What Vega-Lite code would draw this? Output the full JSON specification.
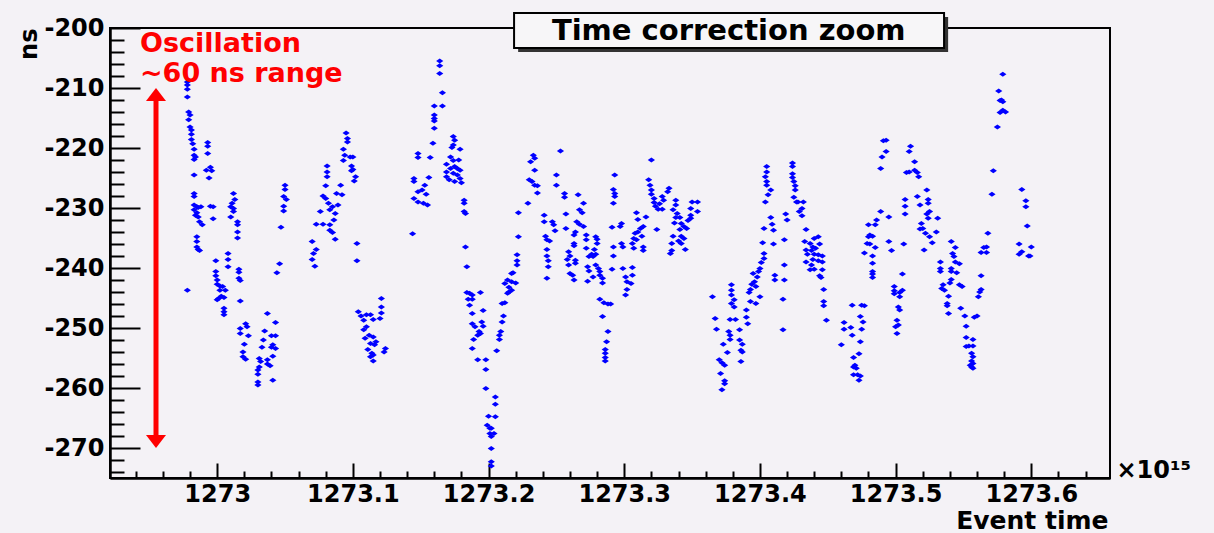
{
  "$schema": "https://vega.github.io/schema/vega-lite/v6.json",
  "width": 1000,
  "height": 450,
  "autosize": {"type": "none"},
  "padding": {"left": 110, "top": 28, "right": 104, "bottom": 55},
  "background": "#f4f2f6",
  "config": {
    "view": {"stroke": "#000000", "strokeWidth": 2, "fill": "#f4f2f6"},
    "font": "DejaVu Sans",
    "axis": {
      "grid": false, "labelFlush": false, "labelOverlap": false, "labelBound": false,
      "domainColor": "#000000", "domainWidth": 2, "tickColor": "#000000", "tickWidth": 2,
      "labelColor": "#000000", "titleColor": "#000000",
      "labelFont": "DejaVu Sans", "titleFont": "DejaVu Sans",
      "labelFontWeight": "bold", "titleFontWeight": "bold",
      "labelFontSize": 24, "titleFontSize": 24
    }
  },
  "datasets": {
    "pts": [
      {"t":1272.978,"ns":-209.0},{"t":1272.978,"ns":-209.5},{"t":1272.978,"ns":-210.2},{"t":1272.978,"ns":-211.5},
      {"t":1272.979,"ns":-214.0},{"t":1272.980,"ns":-214.5},{"t":1272.979,"ns":-215.3},{"t":1272.980,"ns":-216.5},
      {"t":1272.981,"ns":-217.0},{"t":1272.981,"ns":-217.7},{"t":1272.981,"ns":-218.6},{"t":1272.982,"ns":-219.3},
      {"t":1272.983,"ns":-220.2},{"t":1272.983,"ns":-221.2},{"t":1272.984,"ns":-221.5},{"t":1272.983,"ns":-221.9},
      {"t":1272.983,"ns":-224.5},{"t":1272.983,"ns":-227.6},{"t":1272.983,"ns":-228.1},{"t":1272.983,"ns":-229.5},
      {"t":1272.985,"ns":-229.8},{"t":1272.986,"ns":-229.9},{"t":1272.988,"ns":-229.8},{"t":1272.983,"ns":-230.3},
      {"t":1272.985,"ns":-230.8},{"t":1272.984,"ns":-231.2},{"t":1272.986,"ns":-231.5},{"t":1272.987,"ns":-232.3},
      {"t":1272.989,"ns":-232.8},{"t":1272.985,"ns":-234.8},{"t":1272.985,"ns":-235.6},{"t":1272.985,"ns":-236.5},
      {"t":1272.986,"ns":-236.9},{"t":1272.987,"ns":-237.1},{"t":1272.978,"ns":-243.7},
      {"t":1272.993,"ns":-219.1},{"t":1272.993,"ns":-219.7},{"t":1272.993,"ns":-220.9},{"t":1272.995,"ns":-223.2},
      {"t":1272.992,"ns":-223.7},{"t":1272.996,"ns":-223.8},{"t":1272.994,"ns":-225.0},{"t":1272.995,"ns":-229.7},
      {"t":1272.997,"ns":-229.8},{"t":1272.997,"ns":-231.8},
      {"t":1273.012,"ns":-227.6},{"t":1273.013,"ns":-228.6},{"t":1273.011,"ns":-229.2},{"t":1273.010,"ns":-229.8},
      {"t":1273.012,"ns":-230.1},{"t":1273.012,"ns":-230.6},{"t":1273.010,"ns":-231.5},{"t":1273.015,"ns":-232.3},
      {"t":1273.015,"ns":-232.8},{"t":1273.015,"ns":-234.0},{"t":1273.015,"ns":-235.0},
      {"t":1272.999,"ns":-238.8},{"t":1273.008,"ns":-237.6},{"t":1273.008,"ns":-238.6},{"t":1273.008,"ns":-239.8},
      {"t":1272.999,"ns":-240.6},{"t":1272.999,"ns":-241.3},{"t":1273.000,"ns":-242.0},{"t":1273.000,"ns":-242.7},
      {"t":1273.002,"ns":-243.0},{"t":1273.004,"ns":-243.1},{"t":1273.006,"ns":-243.7},{"t":1273.002,"ns":-243.7},
      {"t":1273.003,"ns":-244.7},{"t":1273.001,"ns":-245.1},{"t":1273.000,"ns":-245.3},{"t":1273.005,"ns":-244.9},
      {"t":1273.005,"ns":-246.7},{"t":1273.005,"ns":-247.3},{"t":1273.005,"ns":-247.8},{"t":1273.016,"ns":-240.2},
      {"t":1273.016,"ns":-240.7},{"t":1273.016,"ns":-241.7},{"t":1273.017,"ns":-242.1},{"t":1273.017,"ns":-245.5},
      {"t":1273.021,"ns":-249.3},{"t":1273.022,"ns":-249.8},{"t":1273.017,"ns":-250.1},{"t":1273.017,"ns":-250.9},
      {"t":1273.023,"ns":-251.3},{"t":1273.020,"ns":-252.7},{"t":1273.019,"ns":-254.0},{"t":1273.019,"ns":-254.8},
      {"t":1273.021,"ns":-255.2},
      {"t":1273.037,"ns":-247.6},{"t":1273.043,"ns":-249.1},{"t":1273.035,"ns":-250.5},{"t":1273.040,"ns":-251.3},
      {"t":1273.043,"ns":-251.3},{"t":1273.034,"ns":-252.0},{"t":1273.041,"ns":-252.8},{"t":1273.040,"ns":-253.2},
      {"t":1273.043,"ns":-253.4},{"t":1273.033,"ns":-253.2},{"t":1273.031,"ns":-255.1},{"t":1273.032,"ns":-255.6},
      {"t":1273.037,"ns":-255.3},{"t":1273.037,"ns":-256.0},{"t":1273.039,"ns":-256.3},{"t":1273.041,"ns":-254.7},
      {"t":1273.031,"ns":-256.5},{"t":1273.030,"ns":-257.0},{"t":1273.030,"ns":-257.7},{"t":1273.030,"ns":-259.0},
      {"t":1273.030,"ns":-259.5},{"t":1273.041,"ns":-258.7},
      {"t":1273.050,"ns":-226.2},{"t":1273.050,"ns":-226.9},{"t":1273.049,"ns":-228.1},{"t":1273.051,"ns":-228.6},
      {"t":1273.049,"ns":-229.7},{"t":1273.049,"ns":-230.5},{"t":1273.047,"ns":-233.2},{"t":1273.046,"ns":-239.3},
      {"t":1273.044,"ns":-240.8},
      {"t":1273.070,"ns":-235.6},{"t":1273.073,"ns":-236.9},{"t":1273.071,"ns":-237.6},{"t":1273.070,"ns":-238.6},
      {"t":1273.072,"ns":-239.7},
      {"t":1273.081,"ns":-223.0},{"t":1273.081,"ns":-224.0},{"t":1273.081,"ns":-224.8},{"t":1273.080,"ns":-226.3},
      {"t":1273.091,"ns":-226.2},{"t":1273.078,"ns":-228.0},{"t":1273.080,"ns":-228.4},{"t":1273.088,"ns":-227.6},
      {"t":1273.092,"ns":-227.8},{"t":1273.089,"ns":-229.5},{"t":1273.085,"ns":-229.8},{"t":1273.083,"ns":-230.3},
      {"t":1273.076,"ns":-230.6},{"t":1273.087,"ns":-230.9},{"t":1273.086,"ns":-232.0},{"t":1273.073,"ns":-232.7},
      {"t":1273.078,"ns":-232.7},{"t":1273.083,"ns":-232.8},{"t":1273.083,"ns":-233.7},{"t":1273.085,"ns":-234.1},
      {"t":1273.087,"ns":-235.2},{"t":1273.082,"ns":-229.2},
      {"t":1273.095,"ns":-217.5},{"t":1273.096,"ns":-218.4},{"t":1273.096,"ns":-219.0},{"t":1273.093,"ns":-220.2},
      {"t":1273.094,"ns":-221.2},{"t":1273.098,"ns":-221.5},{"t":1273.100,"ns":-221.5},{"t":1273.093,"ns":-222.1},
      {"t":1273.099,"ns":-223.0},{"t":1273.100,"ns":-223.6},{"t":1273.099,"ns":-223.8},{"t":1273.102,"ns":-224.8},
      {"t":1273.101,"ns":-225.5},{"t":1273.103,"ns":-235.9},{"t":1273.103,"ns":-238.8},
      {"t":1273.121,"ns":-245.1},{"t":1273.121,"ns":-246.5},{"t":1273.121,"ns":-247.5},{"t":1273.104,"ns":-247.3},
      {"t":1273.106,"ns":-248.0},{"t":1273.110,"ns":-247.8},{"t":1273.113,"ns":-247.8},{"t":1273.108,"ns":-248.7},
      {"t":1273.115,"ns":-248.6},{"t":1273.120,"ns":-248.4},{"t":1273.110,"ns":-249.8},{"t":1273.108,"ns":-250.3},
      {"t":1273.112,"ns":-251.2},{"t":1273.109,"ns":-251.7},{"t":1273.115,"ns":-251.5},{"t":1273.113,"ns":-252.6},
      {"t":1273.117,"ns":-252.3},{"t":1273.116,"ns":-252.8},{"t":1273.124,"ns":-253.4},{"t":1273.111,"ns":-253.6},
      {"t":1273.114,"ns":-254.2},{"t":1273.113,"ns":-254.8},{"t":1273.115,"ns":-254.5},{"t":1273.115,"ns":-255.5},
      {"t":1273.123,"ns":-254.0},
      {"t":1273.148,"ns":-220.9},{"t":1273.148,"ns":-221.6},{"t":1273.145,"ns":-225.1},{"t":1273.145,"ns":-225.6},
      {"t":1273.156,"ns":-224.9},{"t":1273.153,"ns":-226.2},{"t":1273.151,"ns":-227.0},{"t":1273.154,"ns":-227.7},
      {"t":1273.148,"ns":-227.3},{"t":1273.145,"ns":-228.4},{"t":1273.148,"ns":-229.0},{"t":1273.152,"ns":-229.2},
      {"t":1273.155,"ns":-229.5},{"t":1273.144,"ns":-234.3},{"t":1273.157,"ns":-221.6},{"t":1273.159,"ns":-219.2},
      {"t":1273.164,"ns":-205.5},{"t":1273.164,"ns":-206.3},{"t":1273.164,"ns":-207.6},{"t":1273.166,"ns":-210.8},
      {"t":1273.160,"ns":-213.0},{"t":1273.166,"ns":-213.0},{"t":1273.160,"ns":-214.5},{"t":1273.160,"ns":-215.1},
      {"t":1273.160,"ns":-215.5},{"t":1273.160,"ns":-216.7},
      {"t":1273.174,"ns":-218.1},{"t":1273.175,"ns":-218.7},{"t":1273.174,"ns":-219.5},{"t":1273.179,"ns":-220.2},
      {"t":1273.173,"ns":-219.9},{"t":1273.172,"ns":-221.5},{"t":1273.169,"ns":-222.7},{"t":1273.174,"ns":-222.1},
      {"t":1273.178,"ns":-222.0},{"t":1273.175,"ns":-223.1},{"t":1273.177,"ns":-223.4},{"t":1273.172,"ns":-223.4},
      {"t":1273.179,"ns":-223.7},{"t":1273.169,"ns":-224.0},{"t":1273.174,"ns":-224.2},{"t":1273.169,"ns":-224.8},
      {"t":1273.171,"ns":-225.3},{"t":1273.177,"ns":-224.5},{"t":1273.179,"ns":-225.1},{"t":1273.180,"ns":-225.8},
      {"t":1273.175,"ns":-225.6},{"t":1273.182,"ns":-228.7},{"t":1273.182,"ns":-229.2},{"t":1273.182,"ns":-230.6},
      {"t":1273.183,"ns":-230.9},{"t":1273.183,"ns":-236.5},{"t":1273.184,"ns":-239.8},
      {"t":1273.184,"ns":-244.1},{"t":1273.186,"ns":-244.2},{"t":1273.188,"ns":-244.5},{"t":1273.185,"ns":-245.2},
      {"t":1273.188,"ns":-245.2},{"t":1273.194,"ns":-244.1},{"t":1273.186,"ns":-246.2},{"t":1273.188,"ns":-247.6},
      {"t":1273.196,"ns":-247.1},{"t":1273.188,"ns":-249.3},{"t":1273.190,"ns":-249.8},{"t":1273.195,"ns":-249.0},
      {"t":1273.196,"ns":-249.7},{"t":1273.193,"ns":-250.6},{"t":1273.194,"ns":-250.9},{"t":1273.192,"ns":-251.2},
      {"t":1273.189,"ns":-251.9},{"t":1273.188,"ns":-253.4},{"t":1273.192,"ns":-255.3},{"t":1273.198,"ns":-255.3},
      {"t":1273.198,"ns":-256.9},{"t":1273.198,"ns":-260.1},{"t":1273.205,"ns":-261.5},{"t":1273.205,"ns":-262.7},
      {"t":1273.205,"ns":-264.8},{"t":1273.200,"ns":-264.7},{"t":1273.199,"ns":-266.2},{"t":1273.201,"ns":-266.7},
      {"t":1273.202,"ns":-266.7},{"t":1273.204,"ns":-267.6},{"t":1273.201,"ns":-267.6},{"t":1273.202,"ns":-268.1},
      {"t":1273.202,"ns":-270.1},{"t":1273.202,"ns":-272.3},{"t":1273.202,"ns":-273.0},
      {"t":1273.206,"ns":-253.8},{"t":1273.208,"ns":-251.9},{"t":1273.208,"ns":-251.2},{"t":1273.209,"ns":-250.6},
      {"t":1273.210,"ns":-249.0},{"t":1273.211,"ns":-248.0},{"t":1273.210,"ns":-245.9},{"t":1273.212,"ns":-245.8},
      {"t":1273.214,"ns":-244.2},{"t":1273.215,"ns":-244.0},{"t":1273.217,"ns":-243.7},{"t":1273.215,"ns":-243.2},
      {"t":1273.212,"ns":-242.6},{"t":1273.214,"ns":-242.0},{"t":1273.217,"ns":-242.3},{"t":1273.220,"ns":-242.5},
      {"t":1273.218,"ns":-240.8},{"t":1273.217,"ns":-240.9},{"t":1273.221,"ns":-239.5},{"t":1273.221,"ns":-238.8},
      {"t":1273.221,"ns":-237.8},{"t":1273.222,"ns":-234.8},{"t":1273.222,"ns":-230.8},
      {"t":1273.233,"ns":-221.2},{"t":1273.234,"ns":-221.7},{"t":1273.231,"ns":-222.3},{"t":1273.234,"ns":-223.7},
      {"t":1273.230,"ns":-225.3},{"t":1273.232,"ns":-225.6},{"t":1273.234,"ns":-226.2},{"t":1273.236,"ns":-226.3},
      {"t":1273.236,"ns":-227.5},{"t":1273.229,"ns":-229.2},
      {"t":1273.253,"ns":-220.5},{"t":1273.250,"ns":-224.5},{"t":1273.250,"ns":-226.2},{"t":1273.241,"ns":-231.2},
      {"t":1273.241,"ns":-232.3},{"t":1273.247,"ns":-232.3},{"t":1273.248,"ns":-232.8},{"t":1273.249,"ns":-233.8},
      {"t":1273.242,"ns":-234.7},{"t":1273.243,"ns":-235.3},{"t":1273.245,"ns":-235.5},{"t":1273.243,"ns":-236.9},
      {"t":1273.243,"ns":-238.0},{"t":1273.244,"ns":-238.8},{"t":1273.244,"ns":-239.8},{"t":1273.243,"ns":-241.7},
      {"t":1273.256,"ns":-227.6},{"t":1273.256,"ns":-228.2},{"t":1273.257,"ns":-231.0},{"t":1273.257,"ns":-233.4},
      {"t":1273.266,"ns":-227.8},{"t":1273.270,"ns":-229.2},{"t":1273.267,"ns":-230.3},{"t":1273.269,"ns":-230.8},
      {"t":1273.265,"ns":-232.3},{"t":1273.267,"ns":-232.7},{"t":1273.264,"ns":-234.0},{"t":1273.263,"ns":-234.5},
      {"t":1273.270,"ns":-233.1},{"t":1273.272,"ns":-234.5},{"t":1273.272,"ns":-235.3},{"t":1273.263,"ns":-235.9},
      {"t":1273.263,"ns":-236.3},{"t":1273.259,"ns":-237.3},{"t":1273.260,"ns":-238.0},{"t":1273.264,"ns":-238.7},
      {"t":1273.258,"ns":-238.6},{"t":1273.264,"ns":-239.2},{"t":1273.259,"ns":-239.5},{"t":1273.260,"ns":-240.9},
      {"t":1273.262,"ns":-241.2},{"t":1273.263,"ns":-242.0},
      {"t":1273.272,"ns":-236.7},{"t":1273.274,"ns":-238.1},{"t":1273.273,"ns":-239.8},{"t":1273.274,"ns":-240.5},
      {"t":1273.273,"ns":-242.2},{"t":1273.277,"ns":-241.5},{"t":1273.279,"ns":-234.8},{"t":1273.280,"ns":-235.2},
      {"t":1273.280,"ns":-235.9},{"t":1273.278,"ns":-236.9},{"t":1273.279,"ns":-237.7},{"t":1273.276,"ns":-237.7},
      {"t":1273.277,"ns":-238.1},{"t":1273.279,"ns":-239.5},{"t":1273.281,"ns":-240.1},{"t":1273.282,"ns":-240.6},
      {"t":1273.284,"ns":-241.7},{"t":1273.284,"ns":-242.5},{"t":1273.282,"ns":-241.2},
      {"t":1273.282,"ns":-245.2},{"t":1273.285,"ns":-245.8},{"t":1273.288,"ns":-246.0},{"t":1273.290,"ns":-246.0},
      {"t":1273.284,"ns":-248.1},{"t":1273.288,"ns":-250.6},{"t":1273.287,"ns":-252.3},{"t":1273.286,"ns":-253.6},
      {"t":1273.286,"ns":-254.2},{"t":1273.286,"ns":-254.9},{"t":1273.286,"ns":-255.5},
      {"t":1273.293,"ns":-224.5},{"t":1273.292,"ns":-226.9},{"t":1273.293,"ns":-227.6},{"t":1273.293,"ns":-228.1},
      {"t":1273.292,"ns":-229.2},{"t":1273.291,"ns":-233.2},{"t":1273.292,"ns":-236.5},{"t":1273.292,"ns":-238.0},
      {"t":1273.291,"ns":-240.2},{"t":1273.298,"ns":-232.6},{"t":1273.297,"ns":-233.1},{"t":1273.298,"ns":-235.9},
      {"t":1273.299,"ns":-236.5},{"t":1273.299,"ns":-240.1},{"t":1273.301,"ns":-241.5},{"t":1273.302,"ns":-242.3},
      {"t":1273.302,"ns":-243.6},{"t":1273.301,"ns":-244.5},
      {"t":1273.309,"ns":-230.8},{"t":1273.310,"ns":-231.9},{"t":1273.316,"ns":-231.5},{"t":1273.314,"ns":-233.1},
      {"t":1273.312,"ns":-233.4},{"t":1273.310,"ns":-234.0},{"t":1273.308,"ns":-234.2},{"t":1273.307,"ns":-235.1},
      {"t":1273.309,"ns":-235.3},{"t":1273.313,"ns":-234.7},{"t":1273.306,"ns":-235.9},{"t":1273.314,"ns":-236.5},
      {"t":1273.314,"ns":-237.1},{"t":1273.307,"ns":-236.7},{"t":1273.306,"ns":-239.9},{"t":1273.306,"ns":-241.2},
      {"t":1273.305,"ns":-242.6},
      {"t":1273.320,"ns":-222.0},{"t":1273.318,"ns":-225.3},{"t":1273.319,"ns":-226.2},{"t":1273.320,"ns":-227.0},
      {"t":1273.320,"ns":-227.7},{"t":1273.322,"ns":-228.4},{"t":1273.322,"ns":-229.1},{"t":1273.323,"ns":-229.7},
      {"t":1273.325,"ns":-230.2},{"t":1273.328,"ns":-230.2},{"t":1273.326,"ns":-229.3},{"t":1273.328,"ns":-228.1},
      {"t":1273.329,"ns":-228.7},{"t":1273.333,"ns":-226.7},{"t":1273.332,"ns":-227.3},{"t":1273.324,"ns":-233.6},
      {"t":1273.338,"ns":-228.7},{"t":1273.338,"ns":-229.5},{"t":1273.336,"ns":-230.3},{"t":1273.339,"ns":-230.9},
      {"t":1273.341,"ns":-231.6},{"t":1273.338,"ns":-231.6},{"t":1273.337,"ns":-232.5},{"t":1273.342,"ns":-232.6},
      {"t":1273.344,"ns":-233.1},{"t":1273.346,"ns":-233.4},{"t":1273.347,"ns":-232.1},{"t":1273.349,"ns":-231.7},
      {"t":1273.349,"ns":-231.2},{"t":1273.349,"ns":-230.1},{"t":1273.350,"ns":-229.0},{"t":1273.354,"ns":-229.0},
      {"t":1273.354,"ns":-230.6},{"t":1273.341,"ns":-233.6},{"t":1273.336,"ns":-234.7},{"t":1273.342,"ns":-234.7},
      {"t":1273.344,"ns":-235.1},{"t":1273.340,"ns":-235.5},{"t":1273.342,"ns":-235.9},{"t":1273.335,"ns":-235.9},
      {"t":1273.345,"ns":-236.9},{"t":1273.335,"ns":-237.1},{"t":1273.334,"ns":-237.6},
      {"t":1273.365,"ns":-244.8},{"t":1273.367,"ns":-248.4},{"t":1273.368,"ns":-250.2},{"t":1273.373,"ns":-252.7},
      {"t":1273.376,"ns":-254.1},{"t":1273.370,"ns":-255.3},{"t":1273.372,"ns":-255.8},{"t":1273.374,"ns":-256.2},
      {"t":1273.371,"ns":-257.6},{"t":1273.374,"ns":-258.8},{"t":1273.374,"ns":-259.3},{"t":1273.372,"ns":-260.3},
      {"t":1273.379,"ns":-242.8},{"t":1273.379,"ns":-243.7},{"t":1273.379,"ns":-244.5},{"t":1273.381,"ns":-245.3},
      {"t":1273.379,"ns":-245.9},{"t":1273.381,"ns":-246.5},{"t":1273.378,"ns":-248.6},{"t":1273.382,"ns":-248.6},
      {"t":1273.377,"ns":-250.6},{"t":1273.378,"ns":-251.2},{"t":1273.378,"ns":-251.9},{"t":1273.385,"ns":-250.3},
      {"t":1273.385,"ns":-252.0},{"t":1273.387,"ns":-252.7},{"t":1273.386,"ns":-253.7},{"t":1273.387,"ns":-254.0},
      {"t":1273.386,"ns":-255.6},{"t":1273.390,"ns":-247.0},{"t":1273.390,"ns":-248.2},{"t":1273.391,"ns":-249.3},
      {"t":1273.392,"ns":-244.1},{"t":1273.393,"ns":-243.6},{"t":1273.394,"ns":-242.7},{"t":1273.396,"ns":-242.3},
      {"t":1273.397,"ns":-243.1},{"t":1273.398,"ns":-241.5},{"t":1273.395,"ns":-240.9},{"t":1273.399,"ns":-240.6},
      {"t":1273.400,"ns":-244.8},{"t":1273.397,"ns":-245.9},{"t":1273.393,"ns":-245.6},
      {"t":1273.405,"ns":-223.1},{"t":1273.405,"ns":-224.0},{"t":1273.404,"ns":-224.8},{"t":1273.405,"ns":-225.6},
      {"t":1273.405,"ns":-226.2},{"t":1273.408,"ns":-227.0},{"t":1273.406,"ns":-227.8},{"t":1273.404,"ns":-229.0},
      {"t":1273.408,"ns":-231.6},{"t":1273.409,"ns":-232.7},{"t":1273.410,"ns":-233.7},{"t":1273.410,"ns":-236.0},
      {"t":1273.402,"ns":-235.8},{"t":1273.403,"ns":-233.4},{"t":1273.403,"ns":-237.6},{"t":1273.401,"ns":-239.1},
      {"t":1273.400,"ns":-240.1},{"t":1273.403,"ns":-238.4},
      {"t":1273.419,"ns":-231.0},{"t":1273.420,"ns":-232.0},{"t":1273.418,"ns":-235.3},{"t":1273.418,"ns":-239.5},
      {"t":1273.418,"ns":-242.0},{"t":1273.417,"ns":-245.2},{"t":1273.417,"ns":-250.3},{"t":1273.411,"ns":-241.2},
      {"t":1273.411,"ns":-242.0},
      {"t":1273.424,"ns":-222.5},{"t":1273.424,"ns":-223.1},{"t":1273.424,"ns":-224.3},{"t":1273.424,"ns":-224.9},
      {"t":1273.425,"ns":-225.6},{"t":1273.426,"ns":-226.3},{"t":1273.426,"ns":-227.0},{"t":1273.425,"ns":-228.2},
      {"t":1273.427,"ns":-229.0},{"t":1273.429,"ns":-230.6},{"t":1273.428,"ns":-229.0},
      {"t":1273.432,"ns":-229.0},{"t":1273.431,"ns":-230.1},{"t":1273.431,"ns":-231.3},{"t":1273.434,"ns":-233.6},
      {"t":1273.433,"ns":-235.6},{"t":1273.437,"ns":-235.9},{"t":1273.440,"ns":-235.1},{"t":1273.443,"ns":-234.8},
      {"t":1273.439,"ns":-236.5},{"t":1273.444,"ns":-236.0},{"t":1273.434,"ns":-237.0},{"t":1273.438,"ns":-237.1},
      {"t":1273.441,"ns":-236.7},{"t":1273.435,"ns":-237.7},{"t":1273.440,"ns":-237.7},{"t":1273.443,"ns":-237.8},
      {"t":1273.446,"ns":-238.0},{"t":1273.434,"ns":-239.0},{"t":1273.439,"ns":-238.6},{"t":1273.443,"ns":-238.8},
      {"t":1273.446,"ns":-239.0},{"t":1273.438,"ns":-239.5},{"t":1273.437,"ns":-240.3},{"t":1273.440,"ns":-240.2},
      {"t":1273.446,"ns":-240.3},{"t":1273.444,"ns":-241.3},{"t":1273.445,"ns":-241.6},{"t":1273.447,"ns":-243.6},
      {"t":1273.447,"ns":-245.6},{"t":1273.447,"ns":-246.3},{"t":1273.449,"ns":-248.7},
      {"t":1273.460,"ns":-252.8},{"t":1273.462,"ns":-249.1},{"t":1273.462,"ns":-250.2},{"t":1273.467,"ns":-249.9},
      {"t":1273.468,"ns":-251.2},{"t":1273.468,"ns":-246.2},{"t":1273.475,"ns":-246.2},{"t":1273.477,"ns":-246.3},
      {"t":1273.474,"ns":-248.1},{"t":1273.476,"ns":-249.0},{"t":1273.475,"ns":-250.2},{"t":1273.474,"ns":-252.3},
      {"t":1273.473,"ns":-254.3},{"t":1273.469,"ns":-254.9},{"t":1273.470,"ns":-256.2},{"t":1273.469,"ns":-256.5},
      {"t":1273.471,"ns":-256.7},{"t":1273.469,"ns":-257.8},{"t":1273.472,"ns":-257.8},{"t":1273.474,"ns":-258.0},
      {"t":1273.473,"ns":-258.7},
      {"t":1273.491,"ns":-218.8},{"t":1273.493,"ns":-218.7},{"t":1273.493,"ns":-220.6},{"t":1273.490,"ns":-221.5},
      {"t":1273.489,"ns":-223.4},{"t":1273.489,"ns":-230.6},{"t":1273.486,"ns":-232.0},{"t":1273.480,"ns":-232.8},
      {"t":1273.485,"ns":-232.8},{"t":1273.481,"ns":-234.5},{"t":1273.483,"ns":-234.7},{"t":1273.480,"ns":-234.8},
      {"t":1273.479,"ns":-235.9},{"t":1273.481,"ns":-236.0},{"t":1273.485,"ns":-236.6},{"t":1273.477,"ns":-237.5},
      {"t":1273.483,"ns":-238.0},{"t":1273.483,"ns":-239.2},{"t":1273.483,"ns":-240.6},{"t":1273.483,"ns":-241.0},
      {"t":1273.483,"ns":-241.6},{"t":1273.495,"ns":-231.5},{"t":1273.495,"ns":-235.6},{"t":1273.497,"ns":-237.1},
      {"t":1273.505,"ns":-241.0},{"t":1273.499,"ns":-243.1},{"t":1273.499,"ns":-243.8},{"t":1273.499,"ns":-244.3},
      {"t":1273.503,"ns":-244.1},{"t":1273.505,"ns":-243.7},{"t":1273.503,"ns":-244.8},{"t":1273.502,"ns":-246.5},
      {"t":1273.503,"ns":-247.0},{"t":1273.501,"ns":-248.7},{"t":1273.502,"ns":-249.5},{"t":1273.501,"ns":-250.9},
      {"t":1273.500,"ns":-249.8},
      {"t":1273.511,"ns":-219.7},{"t":1273.510,"ns":-220.6},{"t":1273.514,"ns":-222.3},{"t":1273.508,"ns":-224.1},
      {"t":1273.510,"ns":-224.0},{"t":1273.514,"ns":-223.7},{"t":1273.516,"ns":-224.1},{"t":1273.517,"ns":-224.8},
      {"t":1273.507,"ns":-228.6},{"t":1273.507,"ns":-229.7},{"t":1273.507,"ns":-231.0},{"t":1273.506,"ns":-236.0},
      {"t":1273.516,"ns":-228.1},{"t":1273.518,"ns":-229.5},{"t":1273.523,"ns":-227.0},{"t":1273.524,"ns":-228.6},
      {"t":1273.524,"ns":-229.2},{"t":1273.525,"ns":-230.6},{"t":1273.523,"ns":-231.0},{"t":1273.524,"ns":-231.7},
      {"t":1273.519,"ns":-232.6},{"t":1273.520,"ns":-233.4},{"t":1273.518,"ns":-233.5},{"t":1273.522,"ns":-234.2},
      {"t":1273.525,"ns":-234.8},{"t":1273.530,"ns":-234.0},{"t":1273.531,"ns":-231.7},{"t":1273.527,"ns":-235.8},
      {"t":1273.521,"ns":-237.0},
      {"t":1273.541,"ns":-235.6},{"t":1273.544,"ns":-236.6},{"t":1273.542,"ns":-237.6},{"t":1273.543,"ns":-238.1},
      {"t":1273.544,"ns":-239.0},{"t":1273.547,"ns":-239.3},{"t":1273.533,"ns":-239.0},{"t":1273.533,"ns":-240.1},
      {"t":1273.533,"ns":-240.6},{"t":1273.541,"ns":-240.1},{"t":1273.541,"ns":-240.6},{"t":1273.545,"ns":-240.8},
      {"t":1273.541,"ns":-241.9},{"t":1273.540,"ns":-242.5},{"t":1273.535,"ns":-242.8},{"t":1273.534,"ns":-243.4},
      {"t":1273.536,"ns":-243.7},{"t":1273.539,"ns":-244.7},{"t":1273.538,"ns":-245.9},{"t":1273.538,"ns":-246.3},
      {"t":1273.539,"ns":-247.6},{"t":1273.547,"ns":-242.8},
      {"t":1273.579,"ns":-207.7},{"t":1273.576,"ns":-210.5},{"t":1273.578,"ns":-212.0},{"t":1273.577,"ns":-212.1},
      {"t":1273.579,"ns":-212.3},{"t":1273.579,"ns":-213.7},{"t":1273.577,"ns":-214.1},{"t":1273.581,"ns":-214.0},
      {"t":1273.575,"ns":-216.5},{"t":1273.572,"ns":-223.8},{"t":1273.571,"ns":-227.7},{"t":1273.593,"ns":-226.9},
      {"t":1273.596,"ns":-228.8},{"t":1273.596,"ns":-229.8},{"t":1273.597,"ns":-233.0},{"t":1273.591,"ns":-236.0},
      {"t":1273.593,"ns":-237.3},{"t":1273.591,"ns":-237.7},{"t":1273.600,"ns":-236.5},{"t":1273.599,"ns":-238.0},
      {"t":1273.598,"ns":-238.0},{"t":1273.568,"ns":-234.2},{"t":1273.567,"ns":-236.5},{"t":1273.565,"ns":-236.6},
      {"t":1273.563,"ns":-237.4},{"t":1273.567,"ns":-237.4},{"t":1273.563,"ns":-241.3},{"t":1273.563,"ns":-243.6},
      {"t":1273.562,"ns":-244.0},{"t":1273.561,"ns":-244.8},{"t":1273.560,"ns":-248.0},{"t":1273.558,"ns":-248.2},
      {"t":1273.549,"ns":-243.1},{"t":1273.548,"ns":-246.7},{"t":1273.551,"ns":-248.0},{"t":1273.552,"ns":-249.7},
      {"t":1273.552,"ns":-251.6},{"t":1273.557,"ns":-251.9},{"t":1273.552,"ns":-253.1},{"t":1273.554,"ns":-253.0},
      {"t":1273.557,"ns":-253.0},{"t":1273.556,"ns":-254.2},{"t":1273.557,"ns":-254.8},{"t":1273.556,"ns":-255.5},
      {"t":1273.557,"ns":-255.9},{"t":1273.556,"ns":-256.5},{"t":1273.557,"ns":-256.7},{"t":1273.555,"ns":-256.2}
    ]
  },
  "resolve": {"axis": {"x": "independent", "y": "independent"}},
  "layer": [
    {
      "data": {"name": "pts"},
      "mark": {"type": "point", "shape": "M-1,0L0,-0.7L1,0L0,0.7Z", "filled": true, "size": 52, "color": "#0000ff", "opacity": 1},
      "encoding": {
        "x": {
          "field": "t", "type": "quantitative",
          "scale": {"domain": [1272.921, 1273.658], "nice": false, "zero": false},
          "axis": {
            "orient": "bottom", "values": [1273, 1273.1, 1273.2, 1273.3, 1273.4, 1273.5, 1273.6],
            "format": ".1~f", "tickSize": -15, "labelPadding": 19,
            "title": "Event time", "titleFontSize": 25, "titleAlign": "right", "titleAnchor": "end",
            "titleX": 998, "titleY": 50, "titleBaseline": "alphabetic"
          }
        },
        "y": {
          "field": "ns", "type": "quantitative",
          "scale": {"domain": [-275, -200], "nice": false, "zero": false},
          "axis": {
            "orient": "left", "values": [-270, -260, -250, -240, -230, -220, -210, -200],
            "labelExpr": "'-' + (-datum.value)", "tickSize": -30, "labelPadding": 36,
            "title": "ns", "titleAnchor": "end", "titlePadding": 2
          }
        }
      }
    },
    {
      "data": {"values": [{}]},
      "mark": {"type": "rule", "color": "#ff0000", "strokeWidth": 5},
      "encoding": {
        "x": {
          "datum": 1272.9549, "type": "quantitative",
          "scale": {"domain": [1272.921, 1273.658], "nice": false, "zero": false},
          "axis": {
            "orient": "bottom", "labels": false, "tickSize": -7,
            "values": [1272.94, 1272.96, 1272.98, 1273.02, 1273.04, 1273.06, 1273.08, 1273.12, 1273.14, 1273.16, 1273.18, 1273.22, 1273.24, 1273.26, 1273.28, 1273.32, 1273.34, 1273.36, 1273.38, 1273.42, 1273.44, 1273.46, 1273.48, 1273.52, 1273.54, 1273.56, 1273.58, 1273.62, 1273.64],
            "title": "×10¹⁵", "titleFontSize": 24, "titleFontWeight": "bold", "titleAlign": "left", "titleAnchor": "start",
            "titleX": 1006, "titleY": -1, "titleBaseline": "alphabetic"
          }
        },
        "y": {
          "datum": -211.5, "type": "quantitative",
          "scale": {"domain": [-275, -200], "nice": false, "zero": false},
          "axis": {
            "orient": "left", "labels": false, "tickSize": -14, "title": null,
            "values": [-274, -272, -268, -266, -264, -262, -258, -256, -254, -252, -248, -246, -244, -242, -238, -236, -234, -232, -228, -226, -224, -222, -218, -216, -214, -212, -208, -206, -204, -202]
          }
        },
        "y2": {"datum": -268.5}
      }
    },
    {
      "data": {"values": [{}]},
      "mark": {"type": "point", "shape": "M0,-0.65L1,0.65L-1,0.65Z", "filled": true, "size": 400, "color": "#ff0000", "opacity": 1},
      "encoding": {
        "x": {"datum": 1272.9549, "type": "quantitative", "scale": {"domain": [1272.921, 1273.658], "nice": false, "zero": false}, "axis": null},
        "y": {"datum": -211.08, "type": "quantitative", "scale": {"domain": [-275, -200], "nice": false, "zero": false}, "axis": null}
      }
    },
    {
      "data": {"values": [{}]},
      "mark": {"type": "point", "shape": "M0,0.65L1,-0.65L-1,-0.65Z", "filled": true, "size": 400, "color": "#ff0000", "opacity": 1},
      "encoding": {
        "x": {"datum": 1272.9549, "type": "quantitative", "scale": {"domain": [1272.921, 1273.658], "nice": false, "zero": false}, "axis": null},
        "y": {"datum": -268.92, "type": "quantitative", "scale": {"domain": [-275, -200], "nice": false, "zero": false}, "axis": null}
      }
    },
    {
      "data": {"values": [{}]},
      "mark": {"type": "text", "text": "Oscillation", "align": "left", "baseline": "alphabetic", "font": "DejaVu Sans", "fontWeight": "bold", "fontSize": 27, "color": "#ff0000"},
      "encoding": {
        "x": {"datum": 1272.9431, "type": "quantitative", "scale": {"domain": [1272.921, 1273.658], "nice": false, "zero": false}, "axis": null},
        "y": {"datum": -204.0, "type": "quantitative", "scale": {"domain": [-275, -200], "nice": false, "zero": false}, "axis": null}
      }
    },
    {
      "data": {"values": [{}]},
      "mark": {"type": "text", "text": "~60 ns range", "align": "left", "baseline": "alphabetic", "font": "DejaVu Sans", "fontWeight": "bold", "fontSize": 27, "color": "#ff0000"},
      "encoding": {
        "x": {"datum": 1272.9431, "type": "quantitative", "scale": {"domain": [1272.921, 1273.658], "nice": false, "zero": false}, "axis": null},
        "y": {"datum": -209.0, "type": "quantitative", "scale": {"domain": [-275, -200], "nice": false, "zero": false}, "axis": null}
      }
    },
    {
      "data": {"values": [{}]},
      "mark": {"type": "rect", "color": "#333333", "opacity": 1},
      "encoding": {
        "x": {"datum": 1273.2218, "type": "quantitative", "scale": {"domain": [1272.921, 1273.658], "nice": false, "zero": false}, "axis": null},
        "x2": {"datum": 1273.5387},
        "y": {"datum": -198.17, "type": "quantitative", "scale": {"domain": [-275, -200], "nice": false, "zero": false}, "axis": null},
        "y2": {"datum": -204.0}
      }
    },
    {
      "data": {"values": [{}]},
      "mark": {"type": "rect", "fill": "#f7f6f8", "stroke": "#000000", "strokeWidth": 2, "opacity": 1},
      "encoding": {
        "x": {"datum": 1273.2188, "type": "quantitative", "scale": {"domain": [1272.921, 1273.658], "nice": false, "zero": false}, "axis": null},
        "x2": {"datum": 1273.5357},
        "y": {"datum": -197.5, "type": "quantitative", "scale": {"domain": [-275, -200], "nice": false, "zero": false}, "axis": null},
        "y2": {"datum": -203.33}
      }
    },
    {
      "data": {"values": [{}]},
      "mark": {"type": "text", "text": "Time correction zoom", "align": "center", "baseline": "middle", "font": "DejaVu Sans", "fontWeight": "bold", "fontSize": 29, "color": "#000000"},
      "encoding": {
        "x": {"datum": 1273.377, "type": "quantitative", "scale": {"domain": [1272.921, 1273.658], "nice": false, "zero": false}, "axis": null},
        "y": {"datum": -200.45, "type": "quantitative", "scale": {"domain": [-275, -200], "nice": false, "zero": false}, "axis": null}
      }
    }
  ]
}
